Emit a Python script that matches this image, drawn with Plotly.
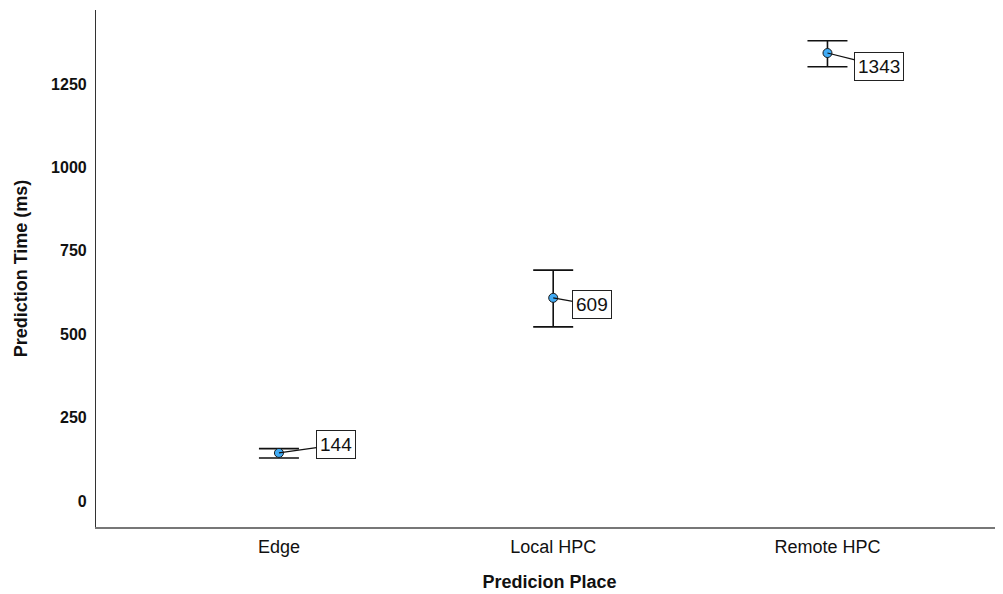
import plotly.graph_objects as go

categories = ["Edge", "Local HPC", "Remote HPC"]
means = [144, 609, 1343]
err_plus = [13, 83, 37]
err_minus = [15, 87, 41]
label_offsets_x = [57, 39, 52]
label_offsets_y = [-8, 7, 13]
y_ticks = [0, 250, 500, 750, 1000, 1250]

FONT = "Liberation Sans, Arial, Helvetica, sans-serif"

fig = go.Figure()
fig.add_trace(go.Scatter(
    x=categories, y=means, mode="markers",
    marker=dict(size=9, color="#40ABF5", line=dict(color="#1a1a1a", width=1)),
    error_y=dict(type="data", symmetric=False, array=err_plus, arrayminus=err_minus,
                 color="#111111", thickness=1.6, width=20),
    showlegend=False, cliponaxis=False,
))

for c, m, ax, ay in zip(categories, means, label_offsets_x, label_offsets_y):
    fig.add_annotation(
        x=c, y=m, text=str(m), showarrow=True, arrowhead=0, arrowwidth=1.2,
        arrowcolor="#111111", ax=ax, ay=ay, standoff=0,
        bordercolor="#222222", borderwidth=1, borderpad=3, bgcolor="white",
        font=dict(family=FONT, size=19, color="#111111"),
    )

fig.update_layout(
    width=995, height=586,
    margin=dict(l=88, r=0, t=2, b=67, autoexpand=False),
    paper_bgcolor="white", plot_bgcolor="white",
    font=dict(family=FONT, color="#111111"),
    xaxis=dict(
        type="category", range=[-0.667, 2.64],
        showline=True, linecolor="#777777", linewidth=1.5,
        showgrid=False, zeroline=False, ticks="outside", ticklen=3,
        tickcolor="rgba(0,0,0,0)",
        tickfont=dict(size=18, color="#111111"),
        title=dict(text="<b>Predicion Place</b>", font=dict(size=18), standoff=19),
        automargin=False,
    ),
    yaxis=dict(
        range=[-78, 1472], tickvals=y_ticks,
        showline=True, linecolor="#333333", linewidth=1.2,
        showgrid=False, zeroline=False, ticks="outside", ticklen=5,
        tickcolor="rgba(0,0,0,0)",
        tickfont=dict(size=16, color="#111111", weight="bold"),
        title=dict(text="<b>Prediction Time (ms)</b>", font=dict(size=18), standoff=18),
        automargin=False,
    ),
)

fig.write_html("out.html")
